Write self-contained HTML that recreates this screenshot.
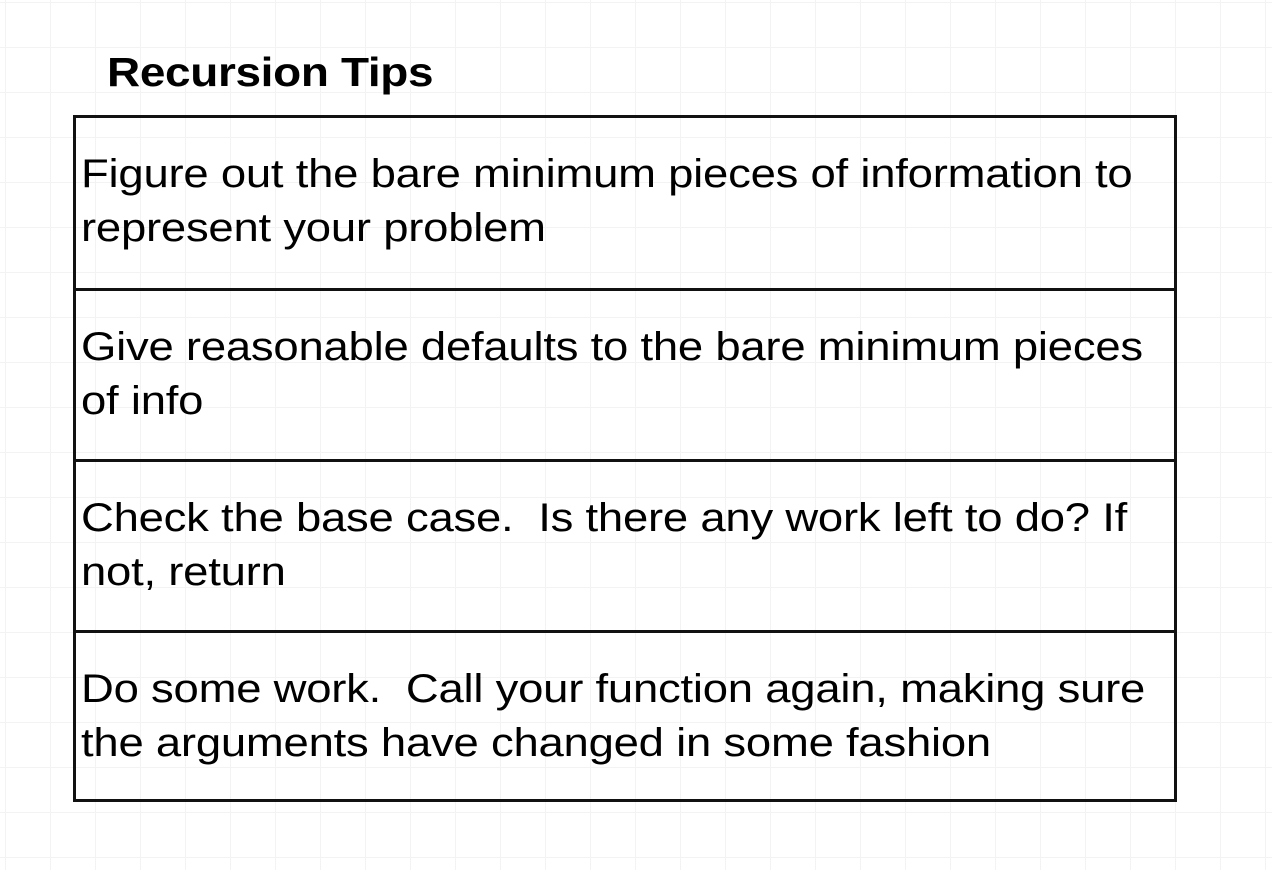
<!DOCTYPE html>
<html><head><style>
html,body{margin:0;padding:0}
body{width:1272px;height:870px;position:relative;overflow:hidden;background:#fff;
background-image:linear-gradient(#f3f3f3 1px,transparent 1px),linear-gradient(90deg,#f3f3f3 1px,transparent 1px);
background-size:45px 45px;background-position:5px 2px;font-family:"Liberation Sans",Arial,sans-serif;color:#000}
.t{position:absolute;left:107px;top:49px;font-size:41px;font-weight:bold;letter-spacing:-0.3px;transform:scaleX(1.12);transform-origin:left top;white-space:nowrap}
.box{position:absolute;left:73px;top:115px;width:1098px;height:681px;border:3px solid #111}
.r{position:absolute;left:0;width:1098px;height:171px;box-sizing:border-box;padding:29px 0 0 5px;font-size:40px;line-height:54px;letter-spacing:-0.2px}
.r span{display:inline-block;transform:scaleX(1.136);transform-origin:left top;white-space:nowrap}
.r+.r{border-top:3px solid #111}
</style></head><body>
<div class="t">Recursion Tips</div>
<div class="box">
<div class="r" style="top:0"><span>Figure out the bare minimum pieces of information to<br>represent your problem</span></div>
<div class="r" style="top:170px"><span>Give reasonable defaults to the bare minimum pieces<br>of info</span></div>
<div class="r" style="top:341px"><span>Check the base case.&nbsp; Is there any work left to do? If<br>not, return</span></div>
<div class="r" style="top:512px;height:169px"><span>Do some work.&nbsp; Call your function again, making sure<br>the arguments have changed in some fashion</span></div>
</div>
</body></html>
